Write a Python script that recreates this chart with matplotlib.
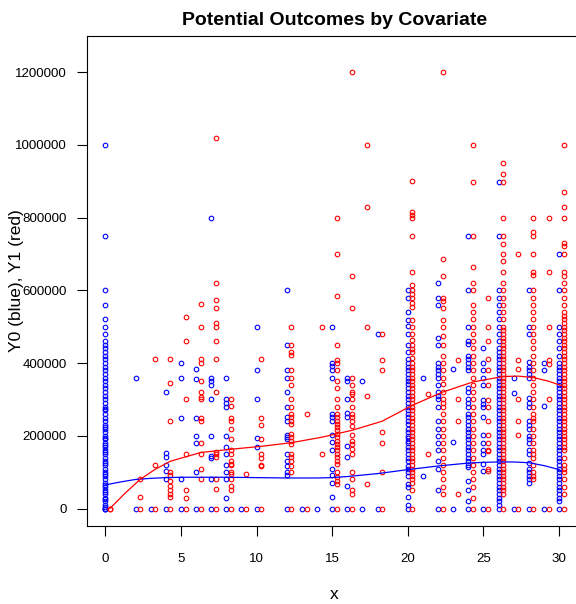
import matplotlib
matplotlib.use("Agg")
import matplotlib.pyplot as plt

plt.rcParams["font.family"] = ["Liberation Sans", "DejaVu Sans"]

# covariate values (one column of points per value); Y1 is drawn shifted right a bit
xs = [0, 2, 3, 4, 5, 6, 7, 8, 9, 10, 12, 13, 14, 15, 16, 17, 18, 20, 21, 22, 23,
      24, 25, 26, 27, 28, 29, 30]
shift = 0.3

# Y0 (blue) values per column, in thousands
y0 = [
    [0, 0, 0, 5, 10, 20, 25, 30, 40, 45, 50, 60, 65, 70, 80, 90, 95, 100, 110, 120,
     125, 130, 140, 150, 155, 160, 170, 175, 180, 190, 195, 200, 210, 220, 225, 230,
     240, 250, 260, 270, 275, 280, 290, 300, 310, 320, 330, 340, 350, 360, 370, 380,
     390, 400, 410, 420, 430, 440, 450, 460, 480, 500, 520, 560, 600, 750, 1000],
    [0, 360],
    [0],
    [0, 81, 102, 121, 141, 154, 320],
    [0, 80, 250, 359, 400],
    [0, 101, 180, 200, 250, 355, 383],
    [0, 80, 140, 144, 200, 300, 339, 350, 359, 800],
    [0, 30, 80, 100, 121, 151, 169, 200, 279, 290, 300, 359],
    [0],
    [0, 170, 195, 300, 382, 499],
    [0, 91, 100, 118, 132, 150, 192, 196, 201, 242, 251, 280, 320, 359, 382, 450, 600],
    [0],
    [0],
    [0, 31, 71, 91, 109, 160, 183, 201, 242, 251, 260, 359, 382, 391, 400, 500],
    [0, 61, 141, 171, 251, 264, 300, 350, 359],
    [0, 350],
    [0, 480],
    [0, 10, 31, 59, 68, 90, 100, 110, 118, 130, 140, 150, 160, 170, 180, 187, 195,
     200, 210, 220, 233, 240, 251, 260, 270, 280, 290, 300, 310, 320, 330, 343, 350,
     360, 370, 380, 390, 400, 410, 430, 450, 480, 501, 519, 540, 580, 600],
    [90, 358],
    [0, 50, 110, 130, 160, 180, 200, 220, 242, 280, 300, 310, 320, 340, 360, 370,
     380, 390, 400, 450, 470, 560, 580, 620],
    [0, 182, 384],
    [0, 22, 50, 77, 114, 120, 130, 140, 150, 160, 170, 180, 190, 200, 210, 220, 230,
     242, 251, 260, 280, 290, 300, 320, 330, 380, 390, 400, 410, 420, 451, 460, 500,
     600, 750],
    [0, 103, 123, 150, 162, 180, 201, 251, 279, 288, 299, 340, 360, 380, 401, 440],
    [0, 10, 20, 30, 40, 50, 60, 70, 80, 90, 100, 110, 120, 130, 140, 150, 160, 170,
     180, 190, 200, 210, 220, 230, 240, 250, 260, 270, 280, 290, 300, 310, 320, 330,
     340, 350, 360, 370, 380, 390, 400, 410, 420, 430, 440, 460, 480, 500, 520, 540,
     560, 580, 600, 750, 899],
    [0, 318, 359],
    [0, 70, 80, 90, 100, 110, 125, 150, 160, 180, 190, 200, 220, 230, 240, 280, 290,
     303, 360, 370, 380, 390, 402, 481, 500, 600],
    [0, 281, 382, 400],
    [0, 20, 30, 40, 50, 60, 70, 80, 90, 100, 110, 120, 130, 140, 150, 160, 170, 180,
     190, 200, 210, 220, 230, 240, 250, 260, 270, 280, 290, 300, 310, 320, 330, 340,
     350, 360, 370, 380, 390, 400, 420, 440, 460, 480, 500, 600, 700],
]

# Y1 (red) values per column, in thousands
y1 = [
    [0, 0],
    [0, 33, 81],
    [0, 121, 410],
    [0, 31, 41, 50, 63, 77, 91, 100, 240, 344, 410],
    [0, 30, 50, 151, 300, 460, 527],
    [0, 80, 110, 151, 180, 240, 250, 302, 306, 320, 350, 400, 410, 499, 561],
    [0, 55, 80, 141, 151, 155, 320, 410, 460, 499, 510, 550, 572, 620, 1019],
    [0, 50, 63, 80, 95, 100, 121, 123, 132, 151, 160, 190, 220, 240, 250, 281, 300],
    [0, 96],
    [0, 116, 121, 140, 151, 190, 231, 250, 410],
    [0, 100, 118, 132, 141, 150, 178, 187, 196, 206, 233, 242, 251, 260, 280, 300,
     340, 360, 382, 421, 430, 450, 500],
    [0, 260],
    [150, 500],
    [0, 68, 77, 86, 100, 123, 132, 141, 150, 160, 169, 178, 187, 196, 206, 215, 224,
     233, 242, 251, 260, 280, 300, 330, 350, 382, 400, 409, 450, 584, 700, 800],
    [0, 40, 50, 82, 100, 150, 164, 178, 187, 201, 228, 242, 251, 260, 280, 300, 316,
     320, 340, 359, 550, 640, 1199],
    [68, 309, 500, 829, 999],
    [0, 100, 181, 210, 382, 408, 480],
    [0, 50, 70, 80, 90, 100, 110, 120, 130, 140, 150, 160, 170, 180, 190, 200, 210,
     220, 230, 240, 250, 260, 270, 280, 290, 300, 310, 320, 330, 340, 350, 360, 370,
     380, 390, 400, 415, 430, 438, 450, 463, 480, 500, 519, 555, 565, 580, 590, 600,
     614, 650, 750, 800, 808, 816, 900],
    [150, 316],
    [0, 40, 60, 80, 100, 120, 140, 160, 180, 200, 220, 240, 260, 280, 290, 300, 320,
     343, 360, 380, 400, 420, 450, 475, 500, 518, 550, 570, 580, 640, 686, 1199],
    [40, 240, 300, 408],
    [0, 30, 60, 80, 100, 120, 140, 160, 180, 200, 220, 240, 260, 280, 300, 320, 340,
     360, 380, 400, 420, 440, 460, 480, 500, 520, 540, 560, 600, 619, 664, 750, 899,
     1000],
    [0, 103, 109, 157, 162, 180, 201, 240, 279, 299, 340, 380, 411, 460, 500, 580],
    [0, 40, 50, 60, 70, 80, 90, 100, 110, 120, 130, 140, 150, 160, 170, 180, 190, 200,
     210, 220, 230, 240, 250, 260, 270, 280, 290, 300, 310, 320, 330, 340, 350, 360,
     370, 380, 390, 400, 410, 420, 430, 440, 450, 460, 470, 480, 490, 500, 520, 540,
     560, 580, 600, 620, 650, 680, 699, 728, 750, 799, 899, 920, 949],
    [0, 201, 240, 300, 383, 409, 700],
    [0, 80, 90, 100, 120, 140, 150, 160, 180, 200, 220, 240, 250, 260, 280, 300, 320,
     340, 360, 380, 400, 420, 440, 460, 480, 500, 520, 540, 560, 580, 600, 641, 650,
     700, 750, 760, 799],
    [0, 300, 398, 409, 500, 650, 799],
    [0, 40, 60, 80, 100, 110, 120, 140, 160, 170, 180, 190, 200, 210, 220, 230, 240,
     250, 260, 270, 280, 290, 300, 310, 320, 330, 340, 350, 360, 370, 380, 390, 400,
     410, 420, 430, 440, 450, 460, 470, 480, 490, 500, 510, 520, 530, 540, 560, 580,
     600, 620, 640, 650, 700, 721, 730, 799, 829, 870, 1000],
]

# smoothed fits (thousands)
fit0_x = [0, 1, 2, 3, 4, 5, 8, 10, 12, 14, 15, 16, 18, 20, 22, 24, 25, 26, 27, 28, 29, 30]
fit0_y = [65, 73, 80, 83, 85, 86, 86, 85, 84, 84, 85, 88, 96, 107, 117, 125, 127, 128, 128, 126, 118, 107]
fit1_x = [0.3, 1.3, 2.3, 3.3, 4.3, 6.3, 8.3, 10.3, 12.3, 14.3, 16.3, 18.3, 20.3, 22.3, 24.3, 26.3, 27.3, 28.3, 29.3, 30.3]
fit1_y = [0, 42, 80, 108, 130, 154, 163, 171, 181, 196, 215, 240, 284, 320, 348, 363, 364, 360, 350, 336]

fig = plt.figure(figsize=(5.76, 6.04), dpi=100)
ax = fig.add_axes([87 / 576, 78 / 604, 495 / 576, 490 / 604])

for x, vals in zip(xs, y0):
    ax.plot([x] * len(vals), [v * 1000 for v in vals], 'o', ls='none', ms=3.3,
            mfc='none', mec='#0000ff', mew=0.8)
for x, vals in zip(xs, y1):
    ax.plot([x + shift] * len(vals), [v * 1000 for v in vals], 'o', ls='none', ms=3.3,
            mfc='none', mec='#ff0000', mew=0.8)

ax.plot(fit0_x, [v * 1000 for v in fit0_y], c='#0000ff', lw=0.9)
ax.plot(fit1_x, [v * 1000 for v in fit1_y], c='#ff0000', lw=0.9)

ax.set_xlim(-1.212, 31.512)
ax.set_ylim(-48000, 1299000)

yt = [0, 200000, 400000, 600000, 800000, 1000000, 1200000]
ax.set_yticks(yt)
ax.set_yticklabels([str(v) for v in yt])
ax.set_xticks([0, 5, 10, 15, 20, 25, 30])
ax.tick_params(axis='x', length=7.5, width=0.8, labelsize=9.6, pad=12)
ax.tick_params(axis='y', length=7.5, width=0.8, labelsize=9.6, pad=7)

for sp in ax.spines.values():
    sp.set_linewidth(0.8)

ax.set_xlabel('x', fontsize=12.5)
ax.xaxis.set_label_coords(0.5, -0.124)
ax.set_ylabel('Y0 (blue), Y1 (red)', fontsize=12.5)
ax.yaxis.set_label_coords(-0.127, 0.5)
ax.set_title('Potential Outcomes by Covariate', fontsize=14, fontweight='bold', pad=7.6)

fig.savefig('out.png', dpi=100)
